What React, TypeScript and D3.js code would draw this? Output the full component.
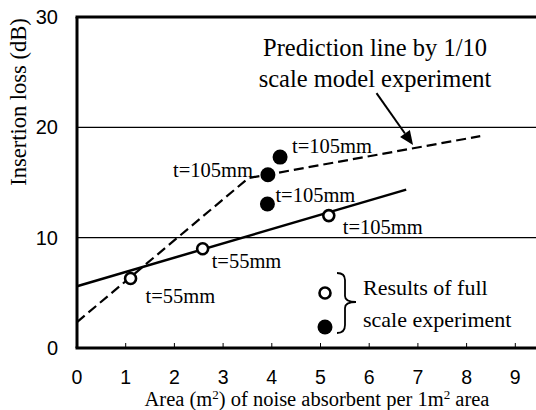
import React, { useEffect, useRef } from "react"
import * as d3 from "d3"

// measured values (x: m2 per 1m2, y: insertion loss dB)
const openX = [1.1, 2.58, 5.17]
const openY = [6.3, 9.0, 12.0]
const openLabels = ["t=55mm", "t=55mm", "t=105mm"]

const filledX = [3.92, 4.17, 3.91]
const filledY = [15.7, 17.3, 13.05]
const filledLabels = ["t=105mm", "t=105mm", "t=105mm"]

const fitX = [0, 6.76]
const fitY = [5.6, 14.35]

const predX = [0, 3.52, 8.28]
const predY = [2.35, 15.4, 19.2]

const xTicks = [0, 1, 2, 3, 4, 5, 6, 7, 8, 9]
const yTicks = [0, 10, 20, 30]
const gridValues = [10, 20]

const W = 536
const H = 410
const serif = "Liberation Serif, Times New Roman, Times, DejaVu Serif"
const sans = "Liberation Sans, Arial, sans-serif"

const App = () => {
    const ref = useRef<SVGSVGElement>(null)

    useEffect(() => {
        if (!ref.current) return
        const svg = d3.select(ref.current)
        svg.selectAll("*").remove()

        const x = d3.scaleLinear().domain([0, 10]).range([77, 564])
        const y = d3.scaleLinear().domain([0, 30]).range([348, 17])

        // grid
        svg.append("g")
            .selectAll("line")
            .data(gridValues)
            .enter()
            .append("line")
            .attr("x1", x(0))
            .attr("x2", W)
            .attr("y1", (d) => y(d))
            .attr("y2", (d) => y(d))
            .attr("stroke", "#000")
            .attr("stroke-width", 1.1)

        // frame: left, bottom, top
        const frame = svg.append("g").attr("stroke", "#000").attr("stroke-width", 3)
        frame.append("line").attr("x1", x(0)).attr("x2", x(0)).attr("y1", y(30)).attr("y2", y(0))
        frame.append("line").attr("x1", x(0) - 1.5).attr("x2", W).attr("y1", y(0)).attr("y2", y(0))
        frame.append("line").attr("x1", x(0) - 1.5).attr("x2", W).attr("y1", y(30)).attr("y2", y(30))

        // x ticks (inside)
        svg.append("g")
            .selectAll("line")
            .data(xTicks.filter((d) => d > 0))
            .enter()
            .append("line")
            .attr("x1", (d) => x(d))
            .attr("x2", (d) => x(d))
            .attr("y1", y(0))
            .attr("y2", y(0) - 5)
            .attr("stroke", "#000")
            .attr("stroke-width", 1)

        svg.append("g")
            .selectAll("text")
            .data(xTicks)
            .enter()
            .append("text")
            .attr("x", (d) => x(d))
            .attr("y", 383.5)
            .attr("text-anchor", "middle")
            .style("font-family", sans)
            .attr("font-size", 19.5)
            .text((d) => d)

        svg.append("g")
            .selectAll("text")
            .data(yTicks)
            .enter()
            .append("text")
            .attr("x", 58)
            .attr("y", (d) => y(d) + 7)
            .attr("text-anchor", "end")
            .style("font-family", sans)
            .attr("font-size", 20)
            .text((d) => d)

        // axis titles
        svg.append("text")
            .attr("transform", "translate(26,102) rotate(-90)")
            .attr("text-anchor", "middle")
            .style("font-family", serif)
            .attr("font-size", 22.5)
            .text("Insertion loss (dB)")

        const xt = svg.append("text")
            .attr("x", 317)
            .attr("y", 406)
            .attr("text-anchor", "middle")
            .style("font-family", serif)
            .attr("font-size", 20.5)
        xt.append("tspan").text("Area (m")
        xt.append("tspan").attr("dy", -7).attr("font-size", 13).text("2")
        xt.append("tspan").attr("dy", 7).text(") of noise absorbent per 1m")
        xt.append("tspan").attr("dy", -7).attr("font-size", 13).text("2")
        xt.append("tspan").attr("dy", 7).text(" area")

        // lines
        const line = d3.line<[number, number]>().x((d) => x(d[0])).y((d) => y(d[1]))
        svg.append("path")
            .attr("d", line(fitX.map((v, i) => [v, fitY[i]])))
            .attr("fill", "none")
            .attr("stroke", "#000")
            .attr("stroke-width", 2.5)
        svg.append("path")
            .attr("d", line(predX.map((v, i) => [v, predY[i]])))
            .attr("fill", "none")
            .attr("stroke", "#000")
            .attr("stroke-width", 2.2)
            .attr("stroke-dasharray", "10,5")

        // points
        const open = openX.map((v, i) => ({ x: v, y: openY[i], label: openLabels[i] }))
        const filled = filledX.map((v, i) => ({ x: v, y: filledY[i], label: filledLabels[i] }))

        svg.append("g")
            .selectAll("circle")
            .data(open)
            .enter()
            .append("circle")
            .attr("cx", (d) => x(d.x))
            .attr("cy", (d) => y(d.y))
            .attr("r", 5.5)
            .attr("fill", "#fff")
            .attr("stroke", "#000")
            .attr("stroke-width", 2.6)
        svg.append("g")
            .selectAll("circle")
            .data(filled)
            .enter()
            .append("circle")
            .attr("cx", (d) => x(d.x))
            .attr("cy", (d) => y(d.y))
            .attr("r", 7.5)
            .attr("fill", "#000")

        // point labels
        const openOff = [[15, 25], [9, 19], [14, 18]]
        const filledOff = [[-15, 2, "end"], [12, -4, "start"], [8, -2, "start"]]
        svg.append("g")
            .selectAll("text")
            .data(open)
            .enter()
            .append("text")
            .attr("x", (d, i) => x(d.x) + openOff[i][0])
            .attr("y", (d, i) => y(d.y) + openOff[i][1])
            .style("font-family", serif)
            .attr("font-size", 20.5)
            .text((d) => d.label)
        svg.append("g")
            .selectAll("text")
            .data(filled)
            .enter()
            .append("text")
            .attr("x", (d, i) => x(d.x) + (filledOff[i][0] as number))
            .attr("y", (d, i) => y(d.y) + (filledOff[i][1] as number))
            .attr("text-anchor", (d, i) => filledOff[i][2] as string)
            .style("font-family", serif)
            .attr("font-size", 20.5)
            .text((d) => d.label)

        // prediction annotation + arrow
        const ann = svg.append("text")
            .attr("text-anchor", "middle")
            .style("font-family", serif)
            .attr("font-size", 24.5)
        ann.append("tspan").attr("x", 375).attr("y", 56).text("Prediction line by 1/10")
        ann.append("tspan").attr("x", 375).attr("y", 87).text("scale model experiment")

        const ax0 = x(6.15), ay0 = y(23.1), ax1 = x(6.9), ay1 = y(18.4)
        const ang = Math.atan2(ay1 - ay0, ax1 - ax0)
        const hl = 14, hw = 6
        const bx = ax1 - hl * Math.cos(ang), by = ay1 - hl * Math.sin(ang)
        svg.append("line")
            .attr("x1", ax0).attr("y1", ay0).attr("x2", bx).attr("y2", by)
            .attr("stroke", "#000").attr("stroke-width", 2)
        svg.append("path")
            .attr("d", `M${ax1},${ay1} L${bx + hw * Math.sin(ang)},${by - hw * Math.cos(ang)} L${bx - hw * Math.sin(ang)},${by + hw * Math.cos(ang)} Z`)
            .attr("fill", "#000")

        // legend
        const lg = svg.append("g")
        lg.append("circle").attr("cx", 325).attr("cy", 293).attr("r", 5.5)
            .attr("fill", "#fff").attr("stroke", "#000").attr("stroke-width", 2.6)
        lg.append("circle").attr("cx", 325).attr("cy", 327).attr("r", 7.5).attr("fill", "#000")
        lg.append("path")
            .attr("d", "M337,273 Q345,273 345,280 L345,296 Q345,302 356,302 Q345,302 345,308 L345,325 Q345,333 337,333")
            .attr("fill", "none").attr("stroke", "#000").attr("stroke-width", 1.8)
        const lt = lg.append("text").style("font-family", serif).attr("font-size", 22)
        lt.append("tspan").attr("x", 363).attr("y", 295).text("Results of full")
        lt.append("tspan").attr("x", 363).attr("y", 327).text("scale experiment")
    }, [])

    return (
        <svg
            ref={ref}
            width={W}
            height={H}
            style={{ position: "absolute", left: 0, top: 0, background: "#fff" }}
        />
    )
}

export default App
